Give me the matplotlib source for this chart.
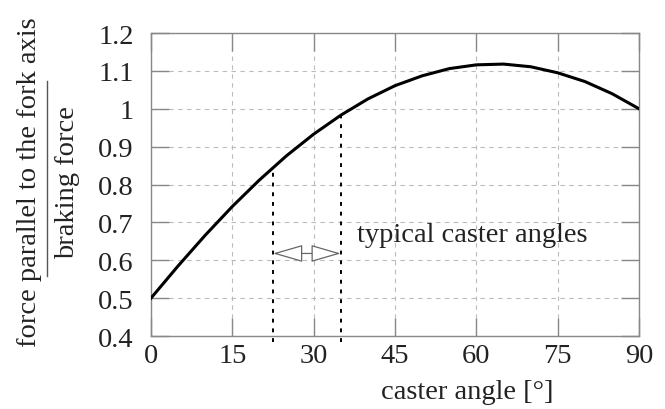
import numpy as np
import matplotlib
matplotlib.use('Agg')
import matplotlib.pyplot as plt
from matplotlib.patches import FancyArrowPatch
from matplotlib.lines import Line2D

plt.rcParams['font.family'] = ['Liberation Serif', 'DejaVu Serif']

# caster angle [deg] and force ratio
caster_angle = [0, 5, 10, 15, 20, 25, 30, 35, 40, 45, 50, 55, 60, 65, 70, 75, 80, 85, 90]
force_ratio = [0.50, 0.585, 0.666, 0.742, 0.812, 0.876, 0.933, 0.983, 1.026, 1.061,
               1.087, 1.106, 1.116, 1.118, 1.111, 1.095, 1.072, 1.040, 1.00]

# range of typical caster angles
typical_lo = 22.5
typical_hi = 35.0
typical_lo_val = 0.845
typical_hi_val = 0.983

xticks = [0, 15, 30, 45, 60, 75, 90]
yticks = [0.4, 0.5, 0.6, 0.7, 0.8, 0.9, 1.0, 1.1, 1.2]
ytick_labels = ['0.4', '0.5', '0.6', '0.7', '0.8', '0.9', '1', '1.1', '1.2']

fs = 20.5
txt_col = '#222222'

fig = plt.figure(figsize=(6.65, 4.10), dpi=100)
ax = fig.add_axes([0.227, 0.178, 0.734, 0.739])

ax.plot(caster_angle, force_ratio, color='black', lw=2.2, zorder=3)

# dashed markers for typical caster angles
for xv, yv in [(typical_lo, typical_lo_val), (typical_hi, typical_hi_val)]:
    ax.plot([xv, xv], [0.385, yv], color='black', lw=1.4, ls=(0, (2, 3)),
            clip_on=False, zorder=3)

arr = FancyArrowPatch((typical_lo, 0.618), (typical_hi, 0.618),
                      arrowstyle='<|-|>,head_length=19,head_width=5.5',
                      mutation_scale=1, facecolor='white', edgecolor='#666666',
                      lw=0.9, shrinkA=0, shrinkB=0, zorder=4)
ax.add_patch(arr)
ax.text(38.0, 0.668, 'typical caster angles', fontsize=fs, color=txt_col,
        va='center', ha='left')

ax.set_xlim(0, 90)
ax.set_ylim(0.4, 1.2)
ax.set_xticks(xticks)
ax.set_yticks(yticks)
ax.set_yticklabels(ytick_labels)
ax.tick_params(direction='in', length=13, width=1, colors='#888888',
               labelcolor=txt_col, labelsize=fs, top=True, right=True)
ax.tick_params(axis='y', pad=12.5)
ax.tick_params(axis='x', pad=5)
ax.grid(True, color='#bbbbbb', ls=(0, (4, 4)), lw=0.8)
for s in ax.spines.values():
    s.set_color('#888888')
    s.set_linewidth(1.0)

ax.text(0.648, -0.183, 'caster angle [°]', transform=ax.transAxes,
        fontsize=fs, color=txt_col, ha='center', va='center')

# y label as a fraction
fig.text(0.044, 0.556, 'force parallel to the fork axis', rotation=90,
         fontsize=fs, color=txt_col, ha='center', va='center')
fig.text(0.101, 0.554, 'braking force', rotation=90,
         fontsize=fs, color=txt_col, ha='center', va='center')
fig.add_artist(Line2D([0.0707, 0.0707], [0.324, 0.80], color='#555555', lw=1.0))

fig.savefig('out.png', dpi=100)
